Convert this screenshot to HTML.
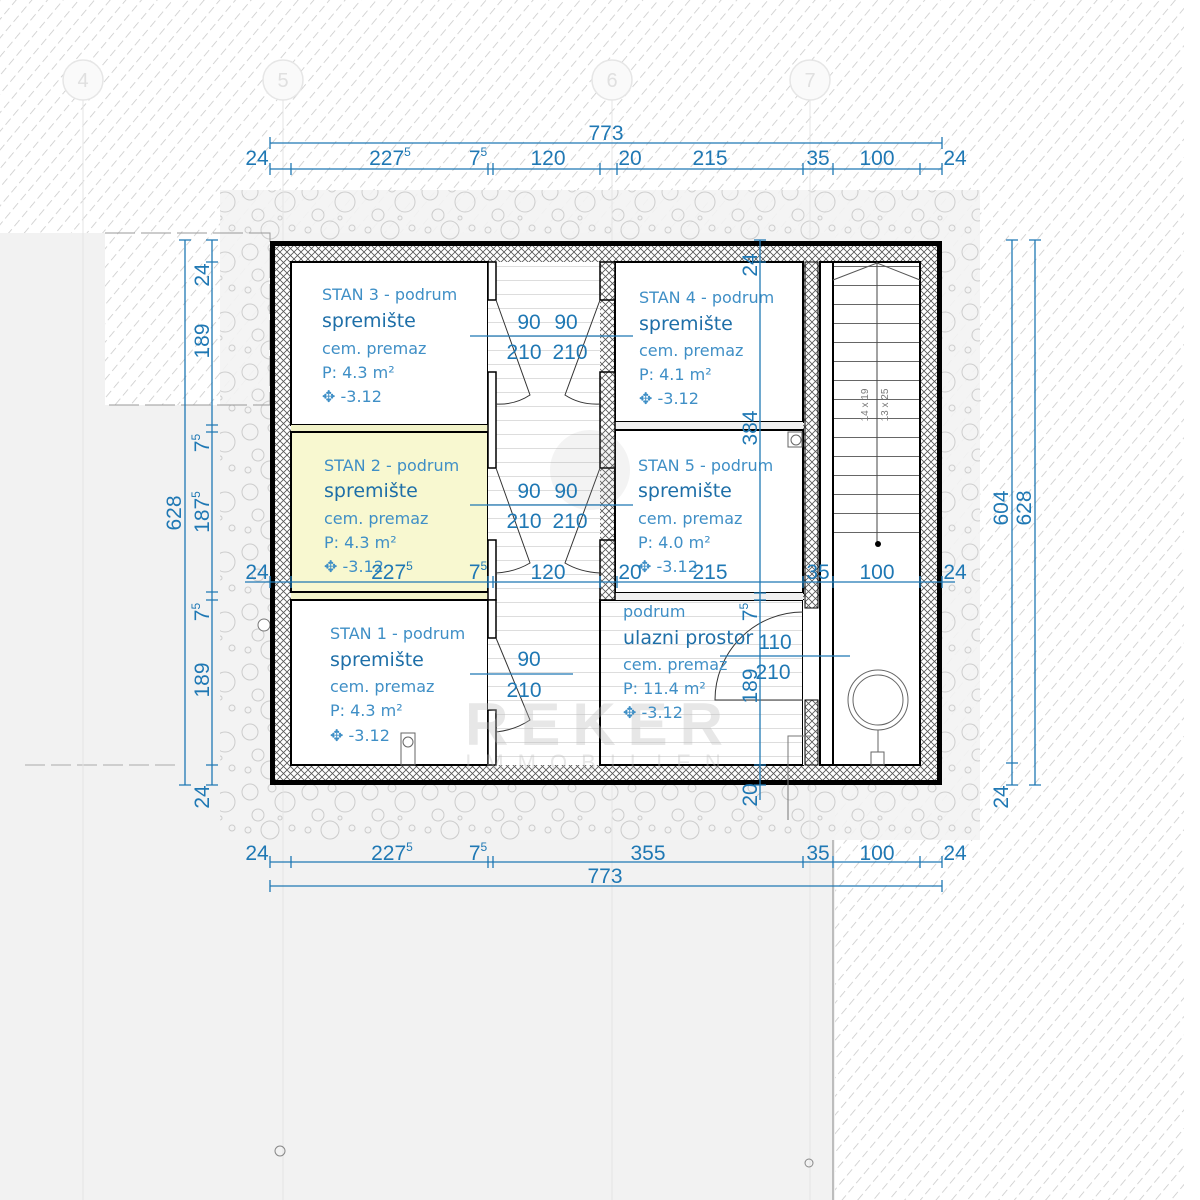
<!DOCTYPE html>
<html><head><meta charset="utf-8"><style>
html,body{margin:0;padding:0;background:#f2f2f2;}
svg{display:block;}
.d{stroke:#1f78b4;stroke-width:1.3;fill:none}
.t{fill:#1f78b4;font-family:"Liberation Sans",sans-serif;font-size:21px}
.r{fill:#3f8fc6;font-family:"DejaVu Sans","Liberation Sans",sans-serif;font-size:16px}
.s{fill:#1e6fa8;font-family:"DejaVu Sans","Liberation Sans",sans-serif;font-size:19px}
.w{stroke:#000;stroke-width:2}
</style></head><body>
<svg width="1200" height="1200" viewBox="0 0 1200 1200" xmlns="http://www.w3.org/2000/svg">
<defs>
<pattern id="hat" width="12" height="12" patternUnits="userSpaceOnUse" patternTransform="rotate(40)">
<rect width="12" height="12" fill="#fff"/><line x1="0" y1="0" x2="0" y2="12" stroke="#c8c8c8" stroke-width="1.5" stroke-dasharray="8 4"/></pattern>
<pattern id="xh" width="7" height="7" patternUnits="userSpaceOnUse">
<rect width="7" height="7" fill="#fff"/><path d="M0 0L7 7M7 0L0 7" stroke="#555" stroke-width="0.8"/></pattern>
<pattern id="bub" width="60" height="60" patternUnits="userSpaceOnUse">
<rect width="60" height="60" fill="#f3f3f3"/>
<g fill="none" stroke="#c8c8c8" stroke-width="1">
<circle cx="10" cy="12" r="8"/><circle cx="32" cy="8" r="4"/><circle cx="45" cy="22" r="10"/><circle cx="18" cy="35" r="6"/><circle cx="8" cy="50" r="3"/><circle cx="30" cy="50" r="9"/><circle cx="52" cy="48" r="3"/><circle cx="40" cy="38" r="2"/></g></pattern>
<pattern id="stp" width="10" height="19" patternUnits="userSpaceOnUse"><rect width="10" height="19" fill="#fff"/><line x1="0" y1="0.5" x2="10" y2="0.5" stroke="#666" stroke-width="1"/></pattern>
<pattern id="cor" width="10" height="14" patternUnits="userSpaceOnUse"><rect width="10" height="14" fill="#fff"/><line x1="0" y1="0.5" x2="10" y2="0.5" stroke="#ddd" stroke-width="1"/></pattern>
</defs>
<rect width="1200" height="1200" fill="#f2f2f2"/>
<rect x="0" y="0" width="1184" height="233" fill="url(#hat)"/>
<rect x="105" y="233" width="165" height="172" fill="url(#hat)"/>
<rect x="835" y="233" width="349" height="967" fill="url(#hat)"/>
<rect x="1184" y="0" width="16" height="1200" fill="#fff"/>
<path d="M220 190 H980 V840 H220 Z" fill="url(#bub)" opacity="0.9"/>
<path d="M105 233 H270 V405 H105" fill="none" stroke="#999" stroke-dasharray="30 6"/>
<line x1="833" y1="840" x2="833" y2="1200" stroke="#888"/>
<line x1="25" y1="765" x2="180" y2="765" stroke="#aaa" stroke-dasharray="20 6"/>
<g fill="#fafafa" stroke="#e6e6e6" stroke-width="1.5"><circle cx="83" cy="80" r="20"/><circle cx="283" cy="80" r="20"/><circle cx="612" cy="80" r="20"/><circle cx="810" cy="80" r="20"/></g>
<g fill="#e0e0e0" font-family="Liberation Sans,sans-serif" font-size="20" text-anchor="middle"><text x="83" y="87">4</text><text x="283" y="87">5</text><text x="612" y="87">6</text><text x="810" y="87">7</text></g>
<g stroke="#e4e4e4"><line x1="83" y1="100" x2="83" y2="1200"/><line x1="283" y1="100" x2="283" y2="1200"/><line x1="612" y1="100" x2="612" y2="1200"/><line x1="810" y1="100" x2="810" y2="1200"/></g>
<circle cx="280" cy="1151" r="5" fill="none" stroke="#888"/><circle cx="809" cy="1163" r="4" fill="none" stroke="#888"/>
<circle cx="264" cy="625" r="6" fill="#fff" stroke="#777"/>
<rect x="270" y="241" width="672" height="544" fill="url(#xh)"/>
<rect x="272.5" y="243.5" width="667" height="539" fill="none" stroke="#000" stroke-width="5"/>
<rect x="291" y="262" width="197" height="163" style="fill:#fff" class="w"/>
<rect x="291" y="425" width="197" height="175" style="fill:#f1f2c8"/>
<rect x="291" y="432" width="197" height="160" style="fill:#f8f8d0" class="w"/>
<rect x="291" y="600" width="197" height="165" style="fill:#fff" class="w"/>
<rect x="488" y="262" width="112" height="503" fill="url(#cor)"/>
<rect x="615" y="262" width="188" height="160" style="fill:#fff" class="w"/>
<rect x="615" y="422" width="188" height="10" fill="#f0f0f0"/>
<rect x="615" y="430" width="188" height="163" style="fill:#fff" class="w"/>
<rect x="600" y="600" width="203" height="165" style="fill:url(#cor)" class="w"/>
<rect x="615" y="593" width="188" height="7" fill="#f0f0f0"/>
<rect x="803" y="600" width="30" height="165" style="fill:#fff"/>
<rect x="820" y="262" width="100" height="503" style="fill:#fff" class="w"/>
<rect x="833" y="262" width="87" height="283" fill="url(#stp)"/>
<rect x="833" y="262" width="87" height="503" style="fill:none" class="w"/>
<line x1="877" y1="262" x2="877" y2="545" stroke="#444"/><circle cx="878" cy="544" r="3" fill="#000"/>
<path d="M833 280 L877 263 L920 280" fill="none" stroke="#555"/>
<rect x="805" y="262" width="13" height="346" fill="url(#xh)" stroke="#000"/>
<rect x="805" y="700" width="13" height="65" fill="url(#xh)" stroke="#000"/>
<g stroke="#000" stroke-width="1.5" fill="#fff">
<rect x="488" y="262" width="8" height="38"/><rect x="488" y="372" width="8" height="96"/><rect x="488" y="540" width="8" height="60"/><rect x="488" y="600" width="8" height="38"/><rect x="488" y="710" width="8" height="55"/>
</g>
<g stroke="#000" stroke-width="1.5" fill="url(#xh)">
<rect x="600" y="262" width="15" height="38"/><rect x="600" y="372" width="15" height="96"/><rect x="600" y="540" width="15" height="60"/>
</g>
<g stroke="#333" fill="none" stroke-width="1">
<path d="M496 300 L530 395 Q515 405 496 404"/><path d="M600 300 L565 395 Q580 405 600 404"/>
<path d="M496 468 L530 563 Q515 572 496 573"/><path d="M600 468 L565 563 Q580 572 600 573"/>
<path d="M496 638 L530 720 Q515 730 496 732"/>
<path d="M803 612 A88 88 0 0 0 715 700 H803"/>
<circle cx="878" cy="700" r="30" stroke="#666"/><circle cx="878" cy="700" r="25" stroke="#666"/>
<line x1="878" y1="730" x2="878" y2="752" stroke="#666"/><rect x="871" y="752" width="13" height="13" stroke="#666"/>
<rect x="401" y="733" width="14" height="32" stroke="#666"/><circle cx="408" cy="742" r="5" stroke="#666"/>
<rect x="788" y="432" width="14" height="15" stroke="#666"/><circle cx="796" cy="440" r="5" stroke="#666"/>
<path d="M788 820 V736 H811" stroke="#777"/>
</g>
<circle cx="590" cy="470" r="40" fill="#999" opacity="0.12"/>
<text x="600" y="745" text-anchor="middle" font-family="Liberation Sans,sans-serif" font-size="60" font-weight="bold" fill="#bbb" opacity="0.35" letter-spacing="12">REKER</text>
<text x="600" y="770" text-anchor="middle" font-family="Liberation Sans,sans-serif" font-size="22" fill="#bbb" opacity="0.35" letter-spacing="14">IMMOBILIEN</text>
<text x="868" y="405" font-family="Liberation Sans,sans-serif" font-size="10" fill="#777" transform="rotate(-90 868 405)" text-anchor="middle">14 x 19</text>
<text x="888" y="405" font-family="Liberation Sans,sans-serif" font-size="10" fill="#777" transform="rotate(-90 888 405)" text-anchor="middle">13 x 25</text>
<g>
<text class="r" x="322" y="300">STAN 3 - podrum</text><text class="s" x="322" y="327">spremište</text><text class="r" x="322" y="354">cem. premaz</text><text class="r" x="322" y="378">P: 4.3 m²</text><text class="r" x="322" y="402">✥ -3.12</text>
<text class="r" x="324" y="471">STAN 2 - podrum</text><text class="s" x="324" y="497">spremište</text><text class="r" x="324" y="524">cem. premaz</text><text class="r" x="324" y="548">P: 4.3 m²</text><text class="r" x="324" y="572">✥ -3.12</text>
<text class="r" x="330" y="639">STAN 1 - podrum</text><text class="s" x="330" y="666">spremište</text><text class="r" x="330" y="692">cem. premaz</text><text class="r" x="330" y="716">P: 4.3 m²</text><text class="r" x="330" y="741">✥ -3.12</text>
<text class="r" x="639" y="303">STAN 4 - podrum</text><text class="s" x="639" y="330">spremište</text><text class="r" x="639" y="356">cem. premaz</text><text class="r" x="639" y="380">P: 4.1 m²</text><text class="r" x="639" y="404">✥ -3.12</text>
<text class="r" x="638" y="471">STAN 5 - podrum</text><text class="s" x="638" y="497">spremište</text><text class="r" x="638" y="524">cem. premaz</text><text class="r" x="638" y="548">P: 4.0 m²</text><text class="r" x="638" y="572">✥ -3.12</text>
<text class="r" x="623" y="617">podrum</text><text class="s" x="623" y="644">ulazni prostor</text><text class="r" x="623" y="670">cem. premaz</text><text class="r" x="623" y="694">P: 11.4 m²</text><text class="r" x="623" y="718">✥ -3.12</text>
</g>
<g class="d"><line x1="470" y1="336" x2="633" y2="336"/><line x1="470" y1="505" x2="633" y2="505"/><line x1="470" y1="674" x2="573" y2="674"/><line x1="720" y1="656" x2="850" y2="656"/></g>
<g class="t" font-size="19" text-anchor="middle">
<text x="529" y="329">90</text><text x="566" y="329">90</text><text x="524" y="359">210</text><text x="570" y="359">210</text>
<text x="529" y="498">90</text><text x="566" y="498">90</text><text x="524" y="528">210</text><text x="570" y="528">210</text>
<text x="529" y="666">90</text><text x="524" y="697">210</text>
<text x="775" y="649">110</text><text x="773" y="679">210</text>
</g>
<g class="d">
<line x1="270" y1="143" x2="942" y2="143"/><line x1="270" y1="169" x2="942" y2="169"/>
<line x1="245" y1="582" x2="955" y2="582"/>
<line x1="270" y1="862" x2="942" y2="862"/><line x1="270" y1="886" x2="942" y2="886"/>
<line x1="185" y1="240" x2="185" y2="785"/><line x1="212" y1="240" x2="212" y2="785"/>
<line x1="760" y1="240" x2="760" y2="800"/>
<line x1="1012" y1="240" x2="1012" y2="785"/><line x1="1035" y1="240" x2="1035" y2="785"/>
<path d="M270 137v12M942 137v12"/>
<path d="M270 163v12M291 163v12M488 163v12M493 163v12M600 163v12M617 163v12M803 163v12M833 163v12M920 163v12M942 163v12"/>
<path d="M270 576v12M291 576v12M488 576v12M493 576v12M600 576v12M617 576v12M803 576v12M833 576v12M920 576v12M942 576v12"/>
<path d="M270 856v12M291 856v12M488 856v12M493 856v12M803 856v12M833 856v12M920 856v12M942 856v12M270 880v12M942 880v12"/>
<path d="M179 240h12M179 785h12M206 240h12M206 262h12M206 425h12M206 432h12M206 592h12M206 600h12M206 765h12M206 785h12"/>
<path d="M754 240h12M754 262h12M754 593h12M754 600h12M754 765h12M754 785h12"/>
<path d="M1006 240h12M1006 763h12M1006 785h12M1029 240h12M1029 785h12"/>
</g>
<g class="t" text-anchor="middle">
<text x="606" y="140">773</text>
<text x="257" y="165">24</text><text x="390" y="165">227<tspan font-size="12" dy="-9">5</tspan></text><text x="478" y="165">7<tspan font-size="12" dy="-9">5</tspan></text><text x="548" y="165">120</text><text x="630" y="165">20</text><text x="710" y="165">215</text><text x="818" y="165">35</text><text x="877" y="165">100</text><text x="955" y="165">24</text>
<text x="257" y="579">24</text><text x="392" y="579">227<tspan font-size="12" dy="-9">5</tspan></text><text x="478" y="579">7<tspan font-size="12" dy="-9">5</tspan></text><text x="548" y="579">120</text><text x="630" y="579">20</text><text x="710" y="579">215</text><text x="818" y="579">35</text><text x="877" y="579">100</text><text x="955" y="579">24</text>
<text x="257" y="860">24</text><text x="392" y="860">227<tspan font-size="12" dy="-9">5</tspan></text><text x="478" y="860">7<tspan font-size="12" dy="-9">5</tspan></text><text x="648" y="860">355</text><text x="818" y="860">35</text><text x="877" y="860">100</text><text x="955" y="860">24</text>
<text x="605" y="883">773</text>
</g>
<g class="t" text-anchor="middle">
<text transform="translate(181 513) rotate(-90)">628</text>
<text transform="translate(209 275) rotate(-90)">24</text>
<text transform="translate(209 341) rotate(-90)">189</text>
<text transform="translate(209 443) rotate(-90)">7<tspan font-size="12" dy="-9">5</tspan></text>
<text transform="translate(209 512) rotate(-90)">187<tspan font-size="12" dy="-9">5</tspan></text>
<text transform="translate(209 612) rotate(-90)">7<tspan font-size="12" dy="-9">5</tspan></text>
<text transform="translate(209 680) rotate(-90)">189</text>
<text transform="translate(209 797) rotate(-90)">24</text>
<text transform="translate(757 265) rotate(-90)">24</text>
<text transform="translate(757 428) rotate(-90)">384</text>
<text transform="translate(757 612) rotate(-90)">7<tspan font-size="12" dy="-9">5</tspan></text>
<text transform="translate(757 686) rotate(-90)">189</text>
<text transform="translate(757 795) rotate(-90)">20</text>
<text transform="translate(1008 508) rotate(-90)">604</text>
<text transform="translate(1031 508) rotate(-90)">628</text>
<text transform="translate(1008 797) rotate(-90)">24</text>
</g>
</svg>
</body></html>
